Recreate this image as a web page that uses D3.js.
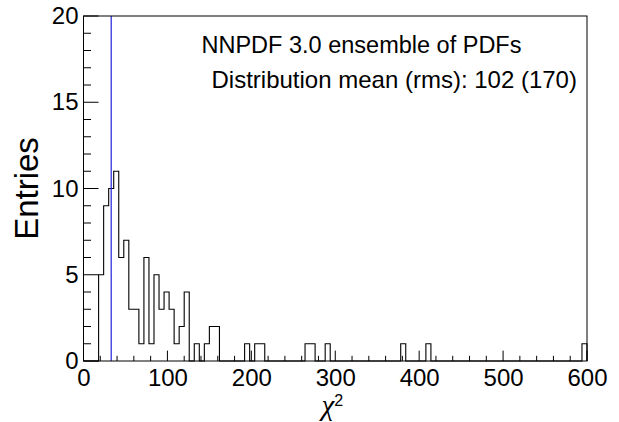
<!DOCTYPE html>
<html><head><meta charset="utf-8">
<script src="https://cdn.jsdelivr.net/npm/d3@7"></script>
<style>body{margin:0;background:#fff}svg{display:block}text{font-family:"Liberation Sans",Arial,sans-serif}</style>
</head><body>
<script>
// histogram: 100 bins of width 6 over [0,600]
const binWidth = 6;
const binLow = d3.range(0, 600, binWidth);
const counts = [
  0,0,0,5,9,10,11,6,7,3,
  3,1,6,1,5,3,4,3,1,2,
  4,0,1,0,1,2,2,0,0,0,
  0,0,1,0,1,1,0,0,0,0,
  0,0,0,0,1,1,0,0,1,0,
  0,0,0,0,0,0,0,0,0,0,
  0,0,0,1,0,0,0,0,1,0,
  0,0,0,0,0,0,0,0,0,0,
  0,0,0,0,0,0,0,0,0,0,
  0,0,0,0,0,0,0,0,0,1
];
const refLine = 33;
const xTicks = [0,100,200,300,400,500,600];
const yTicks = [0,5,10,15,20];
const texts = ["NNPDF 3.0 ensemble of PDFs", "Distribution mean (rms): 102 (170)"];

const W = 619, H = 422;
const L = 83.5, R = 587, T = 16, B = 361;
const svg = d3.select("body").append("svg").attr("width", W).attr("height", H);
const x = d3.scaleLinear().domain([0,600]).range([L,R]);
const y = d3.scaleLinear().domain([0,20]).range([B,T]);

// histogram outline
let pts = [[x(0), y(0)]];
binLow.forEach((lo,i)=>{
  pts.push([x(lo), y(counts[i])]);
  pts.push([x(lo+binWidth), y(counts[i])]);
});
pts.push([x(600), y(0)]);
svg.append("path").attr("d", d3.line()(pts)).attr("fill","none")
  .attr("stroke","#000").attr("stroke-width",1.1);

// reference line
svg.append("line").attr("x1",x(refLine)).attr("x2",x(refLine)).attr("y1",y(0)).attr("y2",y(20))
  .attr("stroke","#2020e0").attr("stroke-width",1.2);

// frame
svg.append("rect").attr("x",L).attr("y",T).attr("width",R-L).attr("height",B-T)
  .attr("fill","none").attr("stroke","#000").attr("stroke-width",1);

// x axis
const xAx = d3.axisBottom(x).tickValues(xTicks).tickSize(0).tickPadding(0);
const gx = svg.append("g").attr("transform",`translate(0,${B})`).call(xAx);
gx.select(".domain").remove();
gx.selectAll("text").attr("font-size",24).attr("fill","#000").attr("font-family","Liberation Sans, Arial, sans-serif").attr("y",25).attr("dy",0);
const xMinor = d3.range(0, 601, 20);
svg.append("g").selectAll("line").data(xMinor).join("line")
  .attr("x1",d=>x(d)).attr("x2",d=>x(d)).attr("y1",B).attr("y2",d=>B-(d%100===0?10.4:5.2))
  .attr("stroke","#000").attr("stroke-width",1);

// y axis
const yAx = d3.axisLeft(y).tickValues(yTicks).tickSize(0).tickPadding(5);
const gy = svg.append("g").attr("transform",`translate(${L},0)`).call(yAx);
gy.select(".domain").remove();
gy.selectAll("text").attr("font-size",24).attr("fill","#000").attr("font-family","Liberation Sans, Arial, sans-serif");
const yMinor = d3.range(0, 21, 1);
svg.append("g").selectAll("line").data(yMinor).join("line")
  .attr("x1",L).attr("x2",d=>L+(d%5===0?15:7.5)).attr("y1",d=>y(d)).attr("y2",d=>y(d))
  .attr("stroke","#000").attr("stroke-width",1);

// titles
svg.append("text").attr("transform",`translate(38,${(T+B)/2}) rotate(-90)`)
  .attr("text-anchor","middle").attr("font-size",33).text("Entries");
const xt = svg.append("text").attr("x",x(300)-3).attr("y",415).attr("text-anchor","middle");
xt.append("tspan").attr("font-size",29).attr("font-style","italic").attr("font-family","Liberation Serif, serif").text("χ");
xt.append("tspan").attr("font-size",16).attr("dy",-9).text("2");

// legend text
svg.append("text").attr("x",201.5).attr("y",53).attr("font-size",23.5).text(texts[0]);
svg.append("text").attr("x",211.5).attr("y",88).attr("font-size",24).text(texts[1]);
</script>
</body></html>
